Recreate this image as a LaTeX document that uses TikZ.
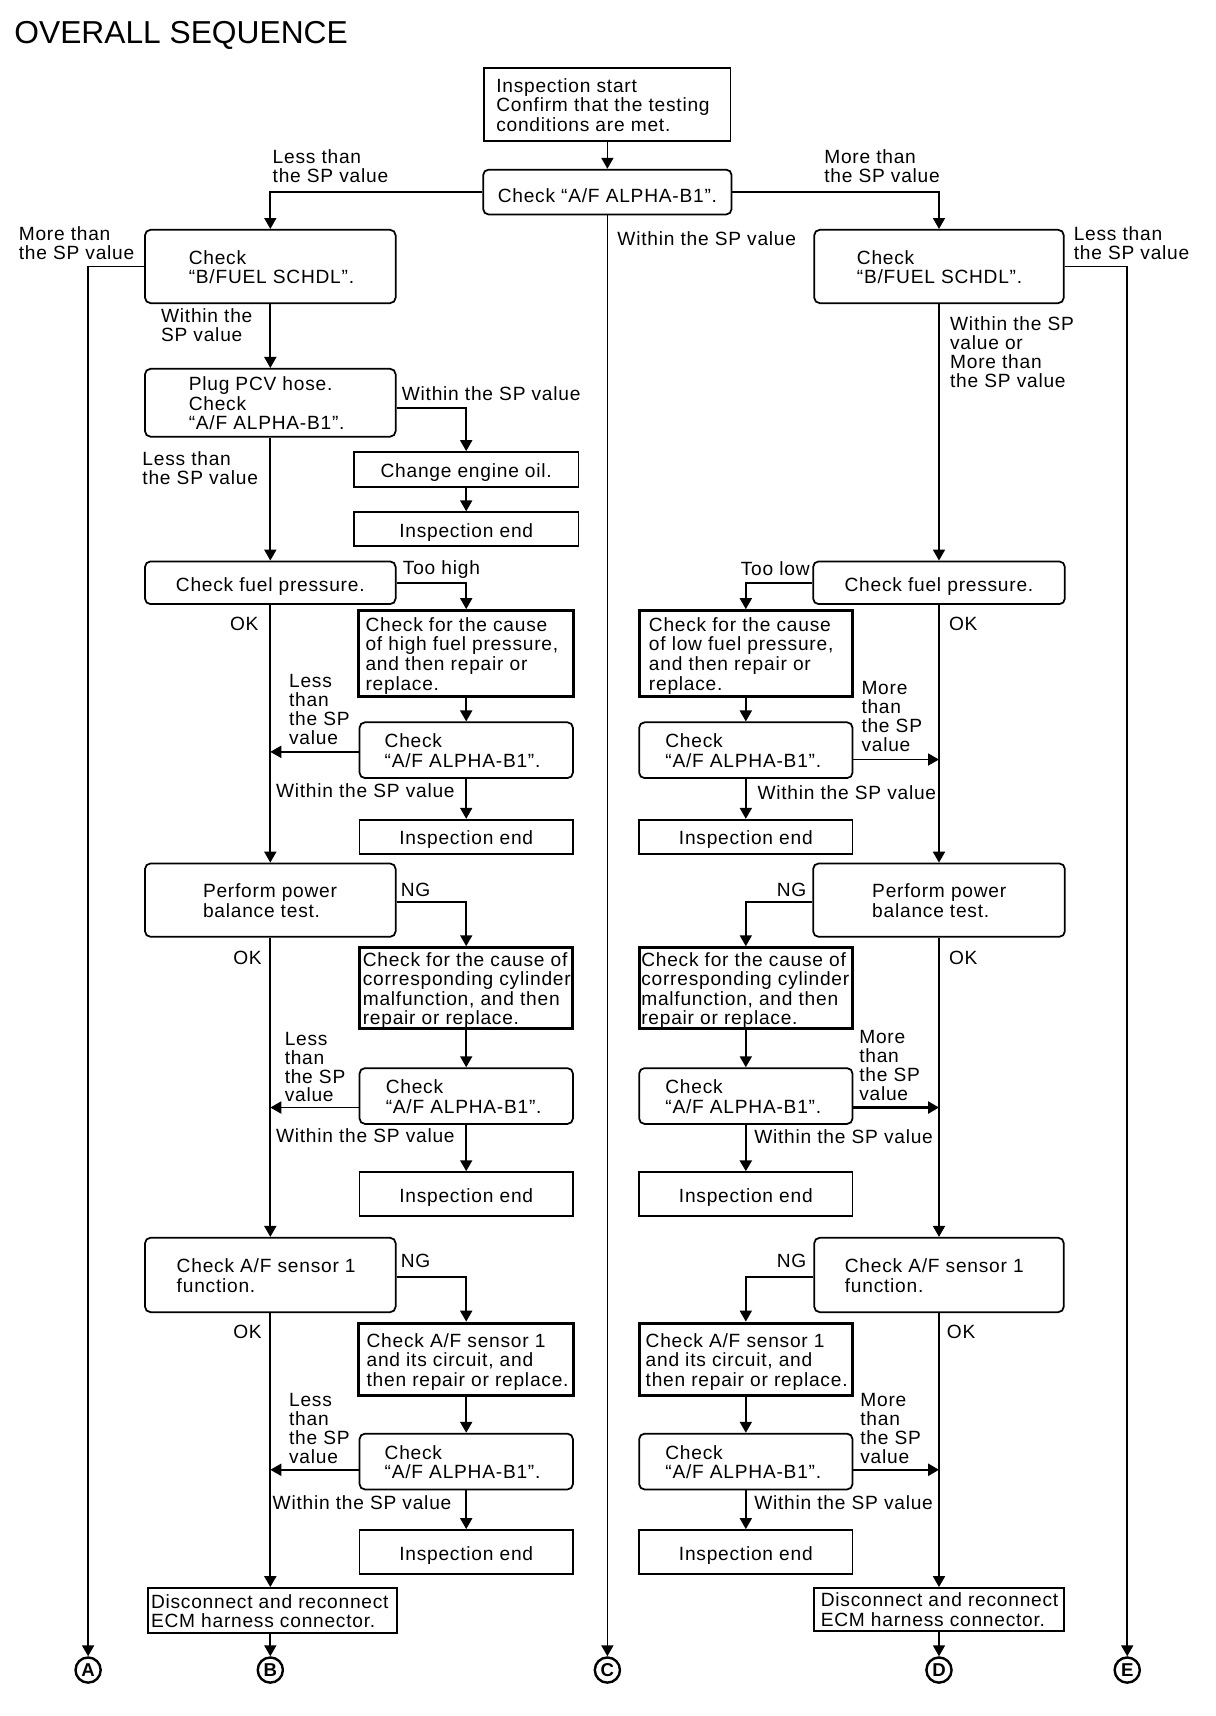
\documentclass[tikz,border=0pt]{standalone}
\usepackage{fontspec}
\setmainfont[LetterSpace=4]{Liberation Sans}
\newfontfamily\titlefont{Liberation Sans}
\usetikzlibrary{arrows.meta,calc}
\newcommand\fs{\fontsize{17.5}{17.3}\selectfont}
\newcommand\dn[1]{\raisebox{-3pt}[\height][\depth]{#1}}
\newcommand\tb[2]{\dn{\makebox[#1pt][l]{\begin{tabular}{@{}l@{}}#2\end{tabular}}}}
\begin{document}
\begin{tikzpicture}[x=1pt,y=-1pt,
  every node/.style={font=\fs, inner sep=0pt},
  rbox/.style={draw, rounded corners=5pt, line width=1.6pt, inner sep=0pt},
  sbox/.style={draw, line width=1.6pt, inner sep=0pt},
  tbox/.style={draw, line width=2.8pt, inner sep=0pt},
  lbl/.style={anchor=west, align=left, inner sep=0pt},
  lblr/.style={anchor=east, align=right, inner sep=0pt},
  arr/.style={-{Triangle[length=10pt,width=11pt]}, line width=1.5pt},
  ln/.style={line width=1.5pt},
  conn/.style={circle, draw, line width=2.2pt, minimum size=23pt, inner sep=0pt, font=\bfseries\fontsize{17}{17}\selectfont}]
\useasboundingbox (0,0) rectangle (1111,1568);
\fill[white] (0,0) rectangle (1111,1568);

\node[anchor=base west, font=\titlefont\fontsize{29}{30}\selectfont] (title) at (13,40) {OVERALL SEQUENCE};

% ---------- top ----------
\node[sbox, minimum width=225pt, minimum height=67pt] (start) at (555,95.5) {\tb{203}{Inspection start\\Confirm that the testing\\conditions are met.}};
\node[rbox, minimum width=227pt, minimum height=41pt] (af0) at (555,175.5) {\dn{Check “A/F ALPHA-B1”.}};
\node[rbox, minimum width=229pt, minimum height=67pt] (bfL) at (247,243.5) {\tb{149}{Check\\“B/FUEL SCHDL”.}};
\node[rbox, minimum width=228pt, minimum height=67pt] (bfR) at (858,243.5) {\tb{150}{Check\\“B/FUEL SCHDL”.}};

% ---------- left column ----------
\node[rbox, minimum width=229pt, minimum height=62pt] (pcv) at (247,368) {\tb{149}{Plug PCV hose.\\Check\\“A/F ALPHA-B1”.}};
\node[sbox, minimum width=205pt, minimum height=32pt] (oil) at (426,429) {\dn{Change engine oil.}};
\node[sbox, minimum width=205pt, minimum height=31pt] (endA) at (426,483.5) {\dn{Inspection end}};
\node[rbox, minimum width=229pt, minimum height=39pt] (fpL) at (247,532.5) {\dn{Check fuel pressure.}};
\node[tbox, minimum width=196pt, minimum height=78pt] (hi) at (426,597) {\tb{184}{Check for the cause\\of high fuel pressure,\\and then repair or\\replace.}};
\node[rbox, minimum width=195pt, minimum height=51pt] (afL2) at (426,685.5) {\tb{149}{Check\\“A/F ALPHA-B1”.}};
\node[sbox, minimum width=195pt, minimum height=31pt] (endL2) at (426,764.5) {\dn{Inspection end}};
\node[rbox, minimum width=229pt, minimum height=67pt] (pbL) at (247,822.5) {\tb{123}{Perform power\\balance test.}};
\node[tbox, minimum width=195pt, minimum height=74pt] (cylL) at (426,903) {\tb{189}{Check for the cause of\\corresponding cylinder\\malfunction, and then\\repair or replace.}};
\node[rbox, minimum width=195pt, minimum height=51pt] (afL3) at (426,1001.5) {\tb{147}{Check\\“A/F ALPHA-B1”.}};
\node[sbox, minimum width=195pt, minimum height=40pt] (endL3) at (426,1091) {\dn{Inspection end}};
\node[rbox, minimum width=229pt, minimum height=68pt] (snL) at (247,1165) {\tb{171}{Check A/F sensor 1\\function.}};
\node[tbox, minimum width=196pt, minimum height=66pt] (circL) at (426,1242) {\tb{182}{Check A/F sensor 1\\and its circuit, and\\then repair or replace.}};
\node[rbox, minimum width=195pt, minimum height=51pt] (afL4) at (426,1335.5) {\tb{149}{Check\\“A/F ALPHA-B1”.}};
\node[sbox, minimum width=195pt, minimum height=40pt] (endL4) at (426,1418) {\dn{Inspection end}};
\node[sbox, minimum width=228pt, minimum height=41pt] (ecmL) at (249,1471.5) {\tb{222}{Disconnect and reconnect\\ECM harness connector.}};

% ---------- right column ----------
\node[rbox, minimum width=230pt, minimum height=39pt] (fpR) at (858,532.5) {\dn{Check fuel pressure.}};
\node[tbox, minimum width=195pt, minimum height=78pt] (lo) at (681.5,597) {\tb{177}{Check for the cause\\of low fuel pressure,\\and then repair or\\replace.}};
\node[rbox, minimum width=195pt, minimum height=51pt] (afR2) at (681.5,685.5) {\tb{147}{Check\\“A/F ALPHA-B1”.}};
\node[sbox, minimum width=195pt, minimum height=31pt] (endR2) at (681.5,764.5) {\dn{Inspection end}};
\node[rbox, minimum width=230pt, minimum height=67pt] (pbR) at (858,822.5) {\tb{122}{Perform power\\balance test.}};
\node[tbox, minimum width=195pt, minimum height=74pt] (cylR) at (681.5,903) {\tb{191}{Check for the cause of\\corresponding cylinder\\malfunction, and then\\repair or replace.}};
\node[rbox, minimum width=195pt, minimum height=51pt] (afR3) at (681.5,1001.5) {\tb{147}{Check\\“A/F ALPHA-B1”.}};
\node[sbox, minimum width=195pt, minimum height=40pt] (endR3) at (681.5,1091) {\dn{Inspection end}};
\node[rbox, minimum width=228pt, minimum height=68pt] (snR) at (858,1165) {\tb{172}{Check A/F sensor 1\\function.}};
\node[tbox, minimum width=195pt, minimum height=66pt] (circR) at (681.5,1242) {\tb{183}{Check A/F sensor 1\\and its circuit, and\\then repair or replace.}};
\node[rbox, minimum width=195pt, minimum height=51pt] (afR4) at (681.5,1335.5) {\tb{147}{Check\\“A/F ALPHA-B1”.}};
\node[sbox, minimum width=195pt, minimum height=40pt] (endR4) at (681.5,1418) {\dn{Inspection end}};
\node[sbox, minimum width=228pt, minimum height=39pt] (ecmR) at (858,1470.5) {\tb{216}{Disconnect and reconnect\\ECM harness connector.}};

% ---------- connectors A-E ----------
\node[conn] (cA) at (80.5,1526) {A};
\node[conn] (cB) at (247,1526) {B};
\node[conn] (cC) at (555,1526) {C};
\node[conn] (cD) at (858,1526) {D};
\node[conn] (cE) at (1030,1526) {E};

% ---------- arrows top ----------
\draw[arr] (start) -- (af0);
\draw[arr] (af0.west) -| (bfL.north);
\draw[arr] (af0.east) -| (bfR.north);
\draw[arr] (af0.south) -- (cC.north);
\draw[arr] (bfL.west) -| (cA.north);
\draw[arr] (bfR.east) -| (cE.north);

% ---------- arrows left ----------
\draw[arr] (bfL) -- (pcv);
\draw[arr] ($(pcv.east)+(0,5)$) -| (oil.north);
\draw[arr] (oil) -- (endA);
\draw[arr] (pcv) -- (fpL);
\draw[arr] (fpL.east) -| (hi.north);
\draw[arr] (hi) -- (afL2);
\draw[arr] ($(afL2.west)+(0,1.5)$) coordinate (pL2) -- (pL2 -| fpL.south);
\draw[arr] (afL2) -- (endL2);
\draw[arr] (fpL) -- (pbL);
\draw[arr] ($(pbL.east)+(0,1.5)$) -| (cylL.north);
\draw[arr] (cylL) -- (afL3);
\draw[arr] ($(afL3.west)+(0,10.5)$) coordinate (pL3) -- (pL3 -| pbL.south);
\draw[arr] (afL3) -- (endL3);
\draw[arr] (pbL) -- (snL);
\draw[arr] ($(snL.east)+(0,2)$) -| (circL.north);
\draw[arr] (circL) -- (afL4);
\draw[arr] ($(afL4.west)+(0,7.5)$) coordinate (pL4) -- (pL4 -| snL.south);
\draw[arr] (afL4) -- (endL4);
\draw[arr] (snL.south) -- (snL.south |- ecmL.north);
\draw[arr] (ecmL.south -| cB.north) -- (cB.north);

% ---------- arrows right ----------
\draw[arr] (bfR) -- (fpR);
\draw[arr] (fpR.west) -| (lo.north);
\draw[arr] (lo) -- (afR2);
\draw[arr] ($(afR2.east)+(0,8.5)$) coordinate (pR2) -- (pR2 -| fpR.south);
\draw[arr] (afR2) -- (endR2);
\draw[arr] (fpR) -- (pbR);
\draw[arr] ($(pbR.west)+(0,1.5)$) -| (cylR.north);
\draw[arr] (cylR) -- (afR3);
\draw[arr, line width=2.2pt] ($(afR3.east)+(0,10.5)$) coordinate (pR3) -- (pR3 -| pbR.south);
\draw[arr, line width=2.4pt] (afR3) -- (endR3);
\draw[arr] (pbR) -- (snR);
\draw[arr] ($(snR.west)+(0,2)$) -| (circR.north);
\draw[arr] (circR) -- (afR4);
\draw[arr, line width=2.2pt] ($(afR4.east)+(0,7.5)$) coordinate (pR4) -- (pR4 -| snR.south);
\draw[arr] (afR4) -- (endR4);
\draw[arr] (snR) -- (ecmR);
\draw[arr] (ecmR) -- (cD);

% ---------- labels ----------
\node[lbl] (t1) at (249,151.5) {Less than\\the SP value};
\node[lbl] (t2) at (753,151.5) {More than\\the SP value};
\node[lbl] (t3) at (564,218) {Within the SP value};
\node[lbl] (t4) at (17,222) {More than\\the SP value};
\node[lbl] (t5) at (981,222) {Less than\\the SP value};
\node[lbl] (t6) at (147,297) {Within the\\SP value};
\node[lbl] (t7) at (367,360) {Within the SP value};
\node[lbl] (t8) at (130,427.5) {Less than\\the SP value};
\node[lbl] (t9) at (368,520) {Too high};
\node[lbl] (t10) at (264,648) {Less\\than\\the SP\\value};
\node[lbl] (t11) at (252,722) {Within the SP value};
\node[lbl] (t12) at (210,570) {OK};
\node[lbl] (t13) at (366,813) {NG};
\node[lbl] (t14) at (260,975) {Less\\than\\the SP\\value};
\node[lbl] (t15) at (252,1038) {Within the SP value};
\node[lbl] (t16) at (213,875) {OK};
\node[lbl] (t17) at (366,1152) {NG};
\node[lbl] (t18) at (264,1305) {Less\\than\\the SP\\value};
\node[lbl] (t19) at (249,1373) {Within the SP value};
\node[lbl] (t20) at (213,1217) {OK};

\node[lbl] (u1) at (868,321.5) {Within the SP\\value or\\More than\\the SP value};
\node[lblr] (u2) at (740,520) {Too low};
\node[lbl] (u3) at (787,654.5) {More\\than\\the SP\\value};
\node[lbl] (u4) at (692,724) {Within the SP value};
\node[lbl] (u5) at (867,570) {OK};
\node[lblr] (u6) at (737,813) {NG};
\node[lbl] (u7) at (785,973.5) {More\\than\\the SP\\value};
\node[lbl] (u8) at (689,1039) {Within the SP value};
\node[lbl] (u9) at (867,875) {OK};
\node[lblr] (u10) at (737,1152) {NG};
\node[lbl] (u11) at (786,1305) {More\\than\\the SP\\value};
\node[lbl] (u12) at (689,1373) {Within the SP value};
\node[lbl] (u13) at (865,1217) {OK};
\end{tikzpicture}
\end{document}
